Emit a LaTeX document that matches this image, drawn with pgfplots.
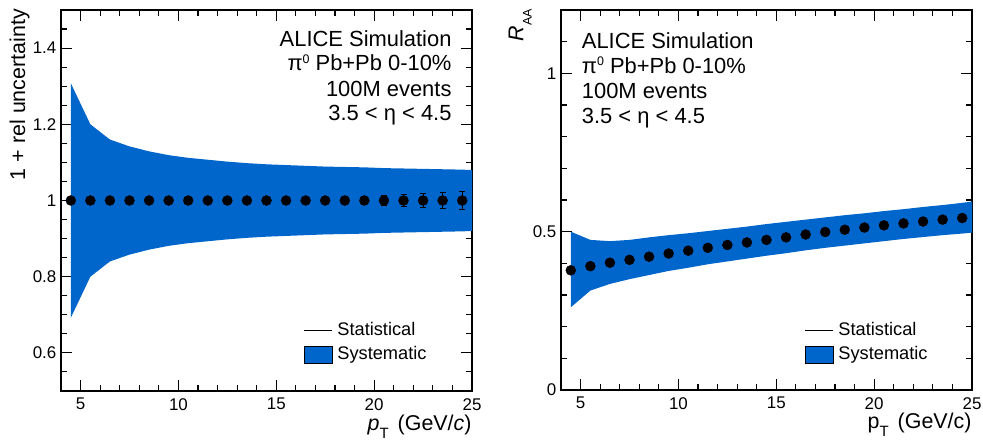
\documentclass[border=0pt]{standalone}
\usepackage{pgfplots}
\pgfplotsset{compat=1.18}
\usepackage{fontspec}
\setmainfont{Liberation Sans}
\definecolor{bandblue}{RGB}{0,102,204}

% systematic band of the left panel: upper edge left to right, lower edge right to left
\pgfplotstableread{
x y
4.5 1.308
5.5 1.200
6.5 1.160
7.5 1.142
8.5 1.129
9.5 1.119
10.5 1.112
11.5 1.107
12.5 1.102
13.5 1.098
14.5 1.095
15.5 1.093
16.5 1.091
17.5 1.089
18.5 1.088
19.5 1.087
20.5 1.085
21.5 1.084
22.5 1.083
23.5 1.082
24.5 1.081
25.0 1.080
25.0 0.920
24.5 0.919
23.5 0.918
22.5 0.917
21.5 0.916
20.5 0.915
19.5 0.913
18.5 0.912
17.5 0.911
16.5 0.909
15.5 0.907
14.5 0.905
13.5 0.902
12.5 0.898
11.5 0.893
10.5 0.888
9.5 0.881
8.5 0.871
7.5 0.858
6.5 0.840
5.5 0.800
4.5 0.692
}\leftband

\pgfplotstableread{
x y ey
4.5 1 0.002
5.5 1 0.002
6.5 1 0.002
7.5 1 0.003
8.5 1 0.003
9.5 1 0.003
10.5 1 0.004
11.5 1 0.004
12.5 1 0.005
13.5 1 0.005
14.5 1 0.006
15.5 1 0.007
16.5 1 0.008
17.5 1 0.009
18.5 1 0.010
19.5 1 0.011
20.5 1 0.013
21.5 1 0.016
22.5 1 0.019
23.5 1 0.021
24.5 1 0.023
}\leftpts

% systematic band of the right panel
\pgfplotstableread{
x y
4.5 0.500
5.5 0.474
6.5 0.470
7.5 0.474
8.5 0.482
9.5 0.489
10.5 0.495
11.5 0.502
12.5 0.509
13.5 0.516
14.5 0.524
15.5 0.531
16.5 0.538
17.5 0.545
18.5 0.552
19.5 0.558
20.5 0.565
21.5 0.571
22.5 0.578
23.5 0.584
24.5 0.591
25.0 0.595
25.0 0.497
24.5 0.494
23.5 0.489
22.5 0.483
21.5 0.477
20.5 0.470
19.5 0.463
18.5 0.456
17.5 0.449
16.5 0.441
15.5 0.432
14.5 0.424
13.5 0.415
12.5 0.406
11.5 0.397
10.5 0.386
9.5 0.376
8.5 0.363
7.5 0.350
6.5 0.335
5.5 0.314
4.5 0.261
}\rightband

\pgfplotstableread{
x y ey
4.5 0.378 0.001
5.5 0.391 0.001
6.5 0.402 0.001
7.5 0.411 0.001
8.5 0.421 0.001
9.5 0.431 0.001
10.5 0.440 0.002
11.5 0.449 0.002
12.5 0.458 0.002
13.5 0.466 0.002
14.5 0.474 0.003
15.5 0.482 0.003
16.5 0.491 0.004
17.5 0.499 0.004
18.5 0.506 0.005
19.5 0.513 0.006
20.5 0.520 0.007
21.5 0.526 0.008
22.5 0.532 0.010
23.5 0.538 0.011
24.5 0.543 0.012
}\rightpts

\pgfplotsset{
  rootstyle/.style={
    scale only axis, width=411bp,
    xmin=4, xmax=25,
    xtick={5,10,15,20,25},
    minor x tick num=4,
    tick align=inside,
    tick pos=both,
    major tick length=11bp, minor tick length=5.7bp,
    tick style={black, line width=1.1bp},
    axis line style={line width=1.2bp},
    tick label style={font=\fontsize{17}{17}\selectfont},
    xticklabel style={inner sep=0pt, anchor=north, yshift=-7bp},
    yticklabel style={inner sep=0pt, anchor=east, xshift=-4.5bp},
    legend style={draw=none, fill=none, inner sep=0pt, outer sep=0pt,
      anchor=north west, font=\fontsize{18.3}{18.3}\selectfont,
      row sep=11.2bp, column sep=4.5bp,
      nodes={inner sep=0pt, text height=10bp, text depth=0bp}},
    legend cell align=left,
    /pgf/number format/assume math mode=true,
  },
  ptstyle/.style={only marks, mark=*, mark size=5bp, black,
    /pgfplots/error bars/y dir=both,
    /pgfplots/error bars/y explicit,
    /pgfplots/error bars/error mark=-,
    /pgfplots/error bars/error mark options={black, line width=1bp, mark size=3bp, rotate=90},
    /pgfplots/error bars/error bar style={black, line width=1bp}},
}

\newcommand{\fs}[1]{\fontsize{#1}{#1}\selectfont}

\begin{document}
\begin{tikzpicture}
% ---------- left panel ----------
\begin{axis}[rootstyle, at={(61bp,50bp)}, anchor=south west, height=381bp,
  ymin=0.5, ymax=1.5,
  ytick={0.6,0.8,1,1.2,1.4},
  minor y tick num=3,
  legend style={at={(0.5912,0.1732)}},
]
% tick marks on all four sides (inside), drawn below the band
\pgfplotsinvokeforeach{5,10,15,20,25}{
  \draw[black, line width=1.1bp] (axis cs:#1,0.5) -- ++(0bp,11bp);
  \draw[black, line width=1.1bp] (axis cs:#1,1.5) -- ++(0bp,-11bp);
}
\pgfplotsinvokeforeach{6,7,8,9,11,12,13,14,16,17,18,19,21,22,23,24}{
  \draw[black, line width=1.1bp] (axis cs:#1,0.5) -- ++(0bp,5.7bp);
  \draw[black, line width=1.1bp] (axis cs:#1,1.5) -- ++(0bp,-5.7bp);
}
\pgfplotsinvokeforeach{0.6,0.8,1,1.2,1.4}{
  \draw[black, line width=1.1bp] (axis cs:4,#1) -- ++(11bp,0bp);
  \draw[black, line width=1.1bp] (axis cs:25,#1) -- ++(-11bp,0bp);
}
\pgfplotsinvokeforeach{0.55,0.65,0.7,0.75,0.85,0.9,0.95,1.05,1.1,1.15,1.25,1.3,1.35,1.45}{
  \draw[black, line width=1.1bp] (axis cs:4,#1) -- ++(5.7bp,0bp);
  \draw[black, line width=1.1bp] (axis cs:25,#1) -- ++(-5.7bp,0bp);
}
\addlegendimage{legend image code/.code={\draw[black, line width=0.9bp] (0bp,0bp) -- (28bp,0bp);}}
\addlegendentry{Statistical}
\addlegendimage{legend image code/.code={\draw[black, fill=bandblue, line width=0.9bp] (0bp,-8.3bp) rectangle (28bp,8.3bp);}}
\addlegendentry{Systematic}
\addplot[fill=bandblue, draw=none, forget plot] table[x=x, y=y] {\leftband};
\addplot[forget plot, ptstyle] table[x=x, y=y, y error=ey] {\leftpts};
\end{axis}

% ---------- right panel ----------
\begin{axis}[rootstyle, at={(561bp,51bp)}, anchor=south west, height=380bp,
  ymin=0, ymax=1.2,
  ytick={0,0.5,1},
  minor y tick num=4,
  legend style={at={(0.5937,0.171)}},
]
\pgfplotsinvokeforeach{5,10,15,20,25}{
  \draw[black, line width=1.1bp] (axis cs:#1,0) -- ++(0bp,11bp);
  \draw[black, line width=1.1bp] (axis cs:#1,1.2) -- ++(0bp,-11bp);
}
\pgfplotsinvokeforeach{6,7,8,9,11,12,13,14,16,17,18,19,21,22,23,24}{
  \draw[black, line width=1.1bp] (axis cs:#1,0) -- ++(0bp,5.7bp);
  \draw[black, line width=1.1bp] (axis cs:#1,1.2) -- ++(0bp,-5.7bp);
}
\pgfplotsinvokeforeach{0.5,1}{
  \draw[black, line width=1.1bp] (axis cs:4,#1) -- ++(11bp,0bp);
  \draw[black, line width=1.1bp] (axis cs:25,#1) -- ++(-11bp,0bp);
}
\pgfplotsinvokeforeach{0.1,0.2,0.3,0.4,0.6,0.7,0.8,0.9,1.1}{
  \draw[black, line width=1.1bp] (axis cs:4,#1) -- ++(5.7bp,0bp);
  \draw[black, line width=1.1bp] (axis cs:25,#1) -- ++(-5.7bp,0bp);
}
\addlegendimage{legend image code/.code={\draw[black, line width=0.9bp] (0bp,0bp) -- (28bp,0bp);}}
\addlegendentry{Statistical}
\addlegendimage{legend image code/.code={\draw[black, fill=bandblue, line width=0.9bp] (0bp,-8.3bp) rectangle (28bp,8.3bp);}}
\addlegendentry{Systematic}
\addplot[fill=bandblue, draw=none, forget plot] table[x=x, y=y] {\rightband};
\addplot[forget plot, ptstyle] table[x=x, y=y, y error=ey] {\rightpts};
\end{axis}

% ---------- texts ----------
\node[anchor=base east, inner sep=0pt, font=\fs{22}] at (451.7bp,394.3bp) {ALICE Simulation};
\node[anchor=base east, inner sep=0pt, font=\fs{22}] at (451.7bp,370bp) {π\raisebox{7.7bp}{\fs{12.5}0} Pb+Pb 0-10\%};
\node[anchor=base east, inner sep=0pt, font=\fs{22}] at (451.7bp,344.3bp) {100M events};
\node[anchor=base east, inner sep=0pt, font=\fs{22}] at (451.7bp,320.3bp) {3.5 < η < 4.5};

\node[anchor=base west, inner sep=0pt, font=\fs{22}] at (581.7bp,392.7bp) {ALICE Simulation};
\node[anchor=base west, inner sep=0pt, font=\fs{22}] at (581.7bp,367.7bp) {π\raisebox{7.7bp}{\fs{12.5}0} Pb+Pb 0-10\%};
\node[anchor=base west, inner sep=0pt, font=\fs{22}] at (581.7bp,342.7bp) {100M events};
\node[anchor=base west, inner sep=0pt, font=\fs{22}] at (581.7bp,317.7bp) {3.5 < η < 4.5};

\node[rotate=90, anchor=base east, inner sep=0pt, font=\fs{21.5}] at (25bp,432bp) {1 + rel uncertainty};
\node[rotate=90, anchor=base east, inner sep=0pt, font=\fs{21.5}] at (523.3bp,432bp) {\textit{R}\raisebox{-8.3bp}{\fs{12.5}AA}};

\node[anchor=base east, inner sep=0pt, font=\fs{21.5}] at (471.7bp,11bp) {\textit{p}\raisebox{-8bp}{\fs{15}T}\hspace{3bp} (GeV/\textit{c})};
\node[anchor=base east, inner sep=0pt, font=\fs{21.5}] at (971.7bp,12.7bp) {p\raisebox{-8bp}{\fs{15}T}\hspace{3bp} (GeV/c)};

\pgfresetboundingbox
\path (0bp,0bp) rectangle (983bp,441bp);
\end{tikzpicture}
\end{document}
